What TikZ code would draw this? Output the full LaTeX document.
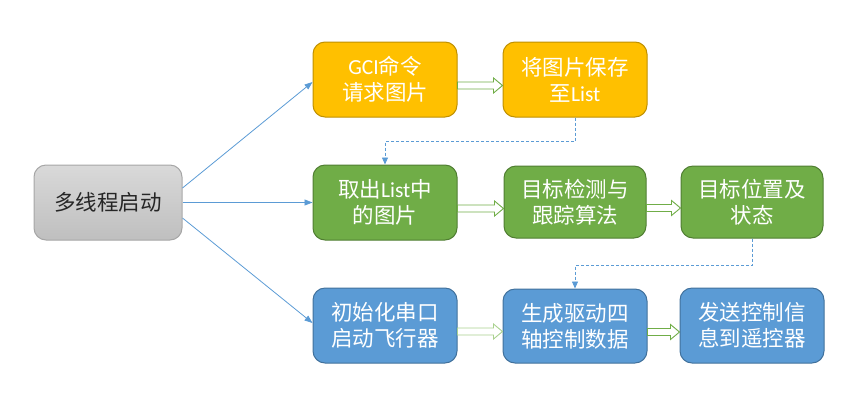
\documentclass[tikz,border=0pt]{standalone}
\usepackage{fontspec}
\newfontfamily\cjk{Noto Sans CJK SC}
\newfontfamily\lat{Carlito}
\usetikzlibrary{arrows.meta,calc}
\definecolor{orfill}{HTML}{FFC000}
\definecolor{ordraw}{HTML}{BF9000}
\definecolor{grfill}{HTML}{70AD47}
\definecolor{grdraw}{HTML}{507E32}
\definecolor{blfill}{HTML}{5B9BD5}
\definecolor{bldraw}{HTML}{41719C}
\definecolor{gytop}{HTML}{D9D9D9}
\definecolor{gybot}{HTML}{BFBFBF}
\definecolor{gydraw}{HTML}{A6A6A6}
\definecolor{lnblue}{HTML}{5B9BD5}
\definecolor{harrowc}{HTML}{70AD47}
\definecolor{harrowl}{HTML}{A9D18E}
\newcommand\hollowarrow[3][harrowc]{%
  \path[draw=#1,fill=white,line width=0.9pt,line join=miter]
    let \p1=(#2.east), \p2=(#3.west) in
    (\x1,\y1-2.5pt) -- (\x2-9pt,\y1-2.5pt) -- (\x2-9pt,\y1+1.5pt) --
    (\x2,\y1-6pt) -- (\x2-9pt,\y1-13.5pt) -- (\x2-9pt,\y1-9.5pt) --
    (\x1,\y1-9.5pt) -- cycle;}
\begin{document}
\begin{tikzpicture}[x=1pt,y=-1pt,
  box/.style={rounded corners=12pt, draw, line width=1pt,
    minimum width=144pt, minimum height=75pt, align=center,
    text=white, inner sep=0pt,
    font=\cjk\fontsize{21.5}{26}\selectfont},
  orbox/.style={box, fill=orfill, draw=ordraw},
  grbox/.style={box, fill=grfill, draw=grdraw},
  blbox/.style={box, fill=blfill, draw=bldraw},
  gybox/.style={box, top color=gytop, bottom color=gybot, draw=gydraw,
    minimum width=148pt, text={black!85}},
  link/.style={draw=lnblue, line width=0.8pt, -{Triangle[length=8pt,width=6pt]}},
  dashlink/.style={draw=lnblue, line width=0.8pt, dash pattern=on 3pt off 2pt,
    -{Triangle[length=7pt,width=6pt]}}
]
\useasboundingbox (0,0) rectangle (862,400);

\node[gybox] (main) at (108,202.5) {多线程启动};

\node[orbox] (r1a) at (385,79.5) {{\lat GCI}命令\\请求图片};
\node[orbox] (r1b) at (575,79.5) {将图片保存\\至{\lat List}};

\node[grbox] (r2a) at (385,202.5) {取出{\lat List}中\\的图片};
\node[grbox, minimum width=142pt, minimum height=72pt] (r2b) at (575,202) {目标检测与\\跟踪算法};
\node[grbox, minimum width=142pt, minimum height=72pt] (r2c) at (752,202) {目标位置及\\状态};

\node[blbox] (r3a) at (385,325.5) {初始化串口\\启动飞行器};
\node[blbox, minimum height=74pt] (r3b) at (575,326) {生成驱动四\\轴控制数据};
\node[blbox] (r3c) at (752,325.5) {发送控制信\\息到遥控器};

\draw[link] ($(main.east)+(0,-14.5)$) -- ($(r1a.west)+(0,2.5)$);
\draw[link] (main.east) -- (r2a.west);
\draw[link] ($(main.east)+(0,15.5)$) -- ($(r3a.west)+(0,-2.5)$);

\hollowarrow{r1a}{r1b}
\hollowarrow{r2a}{r2b}
\hollowarrow{r2b}{r2c}
\hollowarrow[harrowl]{r3a}{r3b}
\hollowarrow{r3b}{r3c}

\draw[dashlink] (r1b.south) -- ++(0,24) -| (r2a.north);
\draw[dashlink] (r2c.south) -- ++(0,27) -| (r3b.north);
\end{tikzpicture}
\end{document}
